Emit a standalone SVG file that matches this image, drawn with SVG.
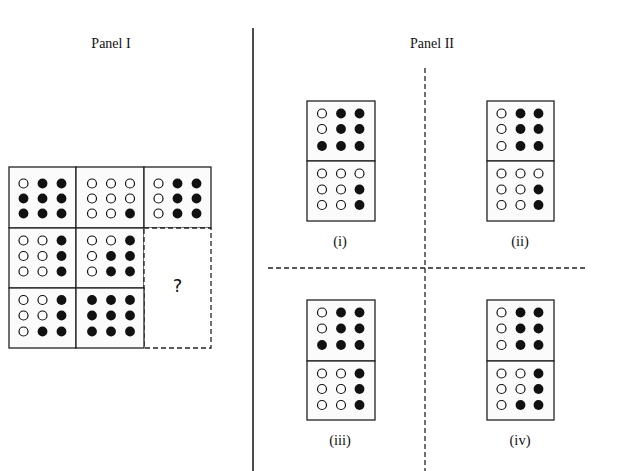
<svg xmlns="http://www.w3.org/2000/svg" width="633" height="471" viewBox="0 0 633 471">
<style>
.t{font-family:"Liberation Serif","Times New Roman",serif;font-size:14px;fill:#111;text-anchor:middle}
.l{font-family:"Liberation Serif","Times New Roman",serif;font-size:14.5px;fill:#111;text-anchor:middle}
.cell{fill:#fbfbfb;stroke:#222;stroke-width:1.3}
.o{fill:#fff;stroke:#111;stroke-width:1.2}
.f{fill:#111}
.dash{stroke:#222;stroke-width:1.3;stroke-dasharray:5 3;fill:none}
</style>
<rect width="633" height="471" fill="#fff"/>
<text class="t" x="111" y="48">Panel I</text>
<text class="t" x="432" y="48">Panel II</text>
<g id="dividers">
<line x1="253" y1="28" x2="253" y2="471" stroke="#111" stroke-width="1.5"/>
<line class="dash" x1="425" y1="68" x2="425" y2="471"/>
<line class="dash" x1="268" y1="268" x2="587" y2="268"/>
</g>
<defs>
<circle id="o" r="4.5" class="o"/>
<circle id="f" r="4.9" class="f"/>
</defs>
<g id="panel1">
<g id="c11"><rect class="cell" x="9" y="167" width="67" height="61"/>
<use href="#o" x="23.5" y="183.5"/><use href="#f" x="42.5" y="183.5"/><use href="#f" x="61.5" y="183.5"/>
<use href="#f" x="23.5" y="198.5"/><use href="#f" x="42.5" y="198.5"/><use href="#f" x="61.5" y="198.5"/>
<use href="#f" x="23.5" y="213.5"/><use href="#f" x="42.5" y="213.5"/><use href="#f" x="61.5" y="213.5"/></g>
<g id="c12"><rect class="cell" x="76" y="167" width="68" height="61"/>
<use href="#o" x="92" y="183.5"/><use href="#o" x="111" y="183.5"/><use href="#o" x="130" y="183.5"/>
<use href="#o" x="92" y="198.5"/><use href="#o" x="111" y="198.5"/><use href="#o" x="130" y="198.5"/>
<use href="#o" x="92" y="213.5"/><use href="#o" x="111" y="213.5"/><use href="#f" x="130" y="213.5"/></g>
<g id="c13"><rect class="cell" x="144" y="167" width="67" height="61"/>
<use href="#o" x="158.5" y="183.5"/><use href="#f" x="177.5" y="183.5"/><use href="#f" x="196.5" y="183.5"/>
<use href="#o" x="158.5" y="198.5"/><use href="#f" x="177.5" y="198.5"/><use href="#f" x="196.5" y="198.5"/>
<use href="#o" x="158.5" y="213.5"/><use href="#f" x="177.5" y="213.5"/><use href="#f" x="196.5" y="213.5"/></g>
<g id="c21"><rect class="cell" x="9" y="228" width="67" height="60"/>
<use href="#o" x="23.5" y="240.5"/><use href="#o" x="42.5" y="240.5"/><use href="#f" x="61.5" y="240.5"/>
<use href="#o" x="23.5" y="256"/><use href="#o" x="42.5" y="256"/><use href="#f" x="61.5" y="256"/>
<use href="#o" x="23.5" y="271.5"/><use href="#o" x="42.5" y="271.5"/><use href="#f" x="61.5" y="271.5"/></g>
<g id="c22"><rect class="cell" x="76" y="228" width="68" height="60"/>
<use href="#o" x="92" y="240.5"/><use href="#o" x="111" y="240.5"/><use href="#f" x="130" y="240.5"/>
<use href="#o" x="92" y="256"/><use href="#f" x="111" y="256"/><use href="#f" x="130" y="256"/>
<use href="#o" x="92" y="271.5"/><use href="#f" x="111" y="271.5"/><use href="#f" x="130" y="271.5"/></g>
<g id="c23"><rect x="144" y="228" width="67" height="120" fill="#fff"/>
<rect class="dash" x="144" y="228" width="67" height="120"/>
<text x="177.5" y="292" font-family="'DejaVu Sans',sans-serif" font-size="18" fill="#111" text-anchor="middle">?</text></g>
<g id="c31"><rect class="cell" x="9" y="288" width="67" height="60"/>
<use href="#o" x="23.5" y="300"/><use href="#o" x="42.5" y="300"/><use href="#f" x="61.5" y="300"/>
<use href="#o" x="23.5" y="315.5"/><use href="#o" x="42.5" y="315.5"/><use href="#f" x="61.5" y="315.5"/>
<use href="#o" x="23.5" y="331.5"/><use href="#f" x="42.5" y="331.5"/><use href="#f" x="61.5" y="331.5"/></g>
<g id="c32"><rect class="cell" x="76" y="288" width="68" height="60"/>
<use href="#f" x="92" y="300"/><use href="#f" x="111" y="300"/><use href="#f" x="130" y="300"/>
<use href="#f" x="92" y="315.5"/><use href="#f" x="111" y="315.5"/><use href="#f" x="130" y="315.5"/>
<use href="#f" x="92" y="331.5"/><use href="#f" x="111" y="331.5"/><use href="#f" x="130" y="331.5"/></g>
</g>
<g id="opt1" transform="translate(307,101)">
<rect class="cell" x="0" y="0" width="68" height="60"/><rect class="cell" x="0" y="60" width="68" height="60"/>
<use href="#o" x="15" y="12.5"/><use href="#f" x="34" y="12.5"/><use href="#f" x="52.5" y="12.5"/>
<use href="#o" x="15" y="28"/><use href="#f" x="34" y="28"/><use href="#f" x="52.5" y="28"/>
<use href="#f" x="15" y="45"/><use href="#f" x="34" y="45"/><use href="#f" x="52.5" y="45"/>
<use href="#o" x="15" y="72.5"/><use href="#o" x="34" y="72.5"/><use href="#o" x="52.5" y="72.5"/>
<use href="#o" x="15" y="88.5"/><use href="#o" x="34" y="88.5"/><use href="#f" x="52.5" y="88.5"/>
<use href="#o" x="15" y="104"/><use href="#o" x="34" y="104"/><use href="#f" x="52.5" y="104"/>
<text class="l" x="33" y="145">(i)</text></g>
<g id="opt2" transform="translate(487,101)">
<rect class="cell" x="0" y="0" width="67" height="60"/><rect class="cell" x="0" y="60" width="67" height="60"/>
<use href="#o" x="14.5" y="12.5"/><use href="#f" x="33.5" y="12.5"/><use href="#f" x="51.5" y="12.5"/>
<use href="#o" x="14.5" y="28"/><use href="#f" x="33.5" y="28"/><use href="#f" x="51.5" y="28"/>
<use href="#o" x="14.5" y="45"/><use href="#f" x="33.5" y="45"/><use href="#f" x="51.5" y="45"/>
<use href="#o" x="14.5" y="72.5"/><use href="#o" x="33.5" y="72.5"/><use href="#o" x="51.5" y="72.5"/>
<use href="#o" x="14.5" y="88.5"/><use href="#o" x="33.5" y="88.5"/><use href="#f" x="51.5" y="88.5"/>
<use href="#o" x="14.5" y="104"/><use href="#o" x="33.5" y="104"/><use href="#f" x="51.5" y="104"/>
<text class="l" x="33" y="145">(ii)</text></g>
<g id="opt3" transform="translate(307,300)">
<rect class="cell" x="0" y="0" width="68" height="61"/><rect class="cell" x="0" y="61" width="68" height="59"/>
<use href="#o" x="15" y="12.5"/><use href="#f" x="34" y="12.5"/><use href="#f" x="52.5" y="12.5"/>
<use href="#o" x="15" y="28.5"/><use href="#f" x="34" y="28.5"/><use href="#f" x="52.5" y="28.5"/>
<use href="#f" x="15" y="45"/><use href="#f" x="34" y="45"/><use href="#f" x="52.5" y="45"/>
<use href="#o" x="15" y="73.5"/><use href="#o" x="34" y="73.5"/><use href="#f" x="52.5" y="73.5"/>
<use href="#o" x="15" y="89"/><use href="#o" x="34" y="89"/><use href="#f" x="52.5" y="89"/>
<use href="#o" x="15" y="105"/><use href="#o" x="34" y="105"/><use href="#f" x="52.5" y="105"/>
<text class="l" x="33" y="145">(iii)</text></g>
<g id="opt4" transform="translate(487,300)">
<rect class="cell" x="0" y="0" width="67" height="61"/><rect class="cell" x="0" y="61" width="67" height="59"/>
<use href="#o" x="14.5" y="12.5"/><use href="#f" x="33.5" y="12.5"/><use href="#f" x="51.5" y="12.5"/>
<use href="#o" x="14.5" y="28.5"/><use href="#f" x="33.5" y="28.5"/><use href="#f" x="51.5" y="28.5"/>
<use href="#o" x="14.5" y="45"/><use href="#f" x="33.5" y="45"/><use href="#f" x="51.5" y="45"/>
<use href="#o" x="14.5" y="73.5"/><use href="#o" x="33.5" y="73.5"/><use href="#f" x="51.5" y="73.5"/>
<use href="#o" x="14.5" y="89"/><use href="#o" x="33.5" y="89"/><use href="#f" x="51.5" y="89"/>
<use href="#o" x="14.5" y="105"/><use href="#f" x="33.5" y="105"/><use href="#f" x="51.5" y="105"/>
<text class="l" x="33" y="145">(iv)</text></g>
</svg>
